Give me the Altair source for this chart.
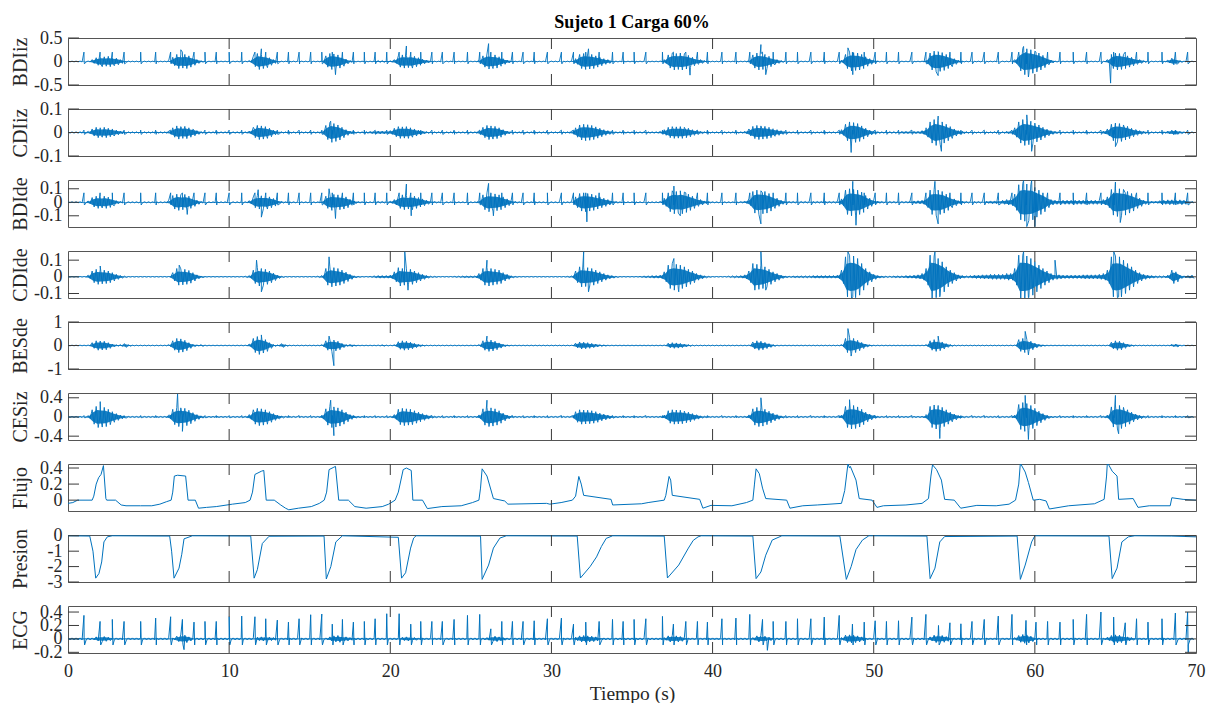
import altair as alt
import pandas as pd

alt.data_transformers.disable_max_rows()

# ---------------------------------------------------------------- data
T_STEP = 0.25  # width of one envelope bin (s); envelopes are in thousandths

# ECG R-peak times (s) and heights (thousandths)
R_TIMES = [0.99, 1.99, 2.75, 3.48, 4.51, 5.44, 6.37, 7.10, 7.82, 8.50, 9.20, 10.00, 10.78,
           11.60, 12.27, 12.99, 13.68, 14.34, 15.06, 15.75, 16.40, 17.03, 17.71, 18.39, 19.06,
           19.78, 20.55, 21.27, 21.89, 22.58, 23.23, 23.96, 24.79, 25.55, 26.24, 26.92, 27.58,
           28.24, 28.93, 29.75, 30.62, 31.37, 32.13, 32.96, 33.79, 34.45, 35.13, 35.86, 36.89,
           37.57, 38.34, 39.06, 39.68, 40.58, 41.45, 42.31, 43.10, 43.76, 44.55, 45.27, 46.10,
           46.93, 47.86, 48.68, 49.41, 50.09, 50.79, 51.54, 52.37, 53.24, 54.02, 54.73, 55.41,
           56.10, 56.86, 57.73, 58.58, 59.45, 60.07, 60.79, 61.56, 62.38, 63.21, 64.10, 64.89,
           65.61, 66.31, 67.02, 67.89, 68.72, 69.48]
R_AMPS = [350, 260, 290, 260, 260, 310, 330, 290, 250, 260, 260, 330, 340,
          330, 300, 280, 250, 300, 360, 370, 220, 290, 250, 260, 300,
          375, 375, 220, 260, 260, 260, 290, 350, 365, 150, 260, 260,
          260, 270, 300, 310, 220, 250, 260, 290, 260, 290, 300, 335,
          220, 260, 260, 250, 300, 310, 365, 290, 260, 260, 300, 300,
          325, 350, 220, 250, 270, 260, 270, 325, 365, 200, 240, 225,
          260, 290, 340, 365, 275, 250, 260, 250, 290, 365, 400, 325,
          240, 300, 250, 300, 385, 400]
ECG_S = -90

BDIIZ_ENV = [
    8, 8, 8, 8, 8, 10, 40, 80, 110, 100, 110, 90, 70, 40, 20, 10, 8, 8, 8, 8,
    8, 8, 8, 8, 8, 20, 90, 150, 140, 150, 120, 80, 40, 15, 8, 8, 8, 8, 8, 8,
    8, 8, 8, 8, 8, 20, 110, 170, 150, 130, 80, 40, 15, 8, 8, 8, 8, 8, 8, 8,
    8, 8, 8, 20, 120, 170, 160, 140, 100, 50, 20, 10, 8, 8, 8, 8, 15, 20, 20, 15,
    15, 40, 120, 140, 130, 140, 110, 80, 50, 30, 15, 8, 8, 8, 8, 8, 8, 8, 8, 8,
    8, 8, 30, 120, 160, 150, 140, 100, 60, 30, 15, 8, 8, 8, 8, 8, 8, 8, 8, 8,
    8, 8, 8, 8, 8, 15, 60, 150, 170, 160, 150, 120, 90, 60, 40, 20, 10, 8, 8, 8,
    8, 8, 8, 8, 8, 8, 8, 10, 40, 140, 180, 170, 180, 160, 130, 90, 60, 40, 20, 10,
    8, 8, 8, 8, 8, 8, 8, 8, 10, 30, 140, 180, 170, 150, 110, 70, 40, 20, 10, 8,
    8, 8, 8, 8, 8, 8, 8, 8, 8, 8, 8, 8, 30, 150, 200, 190, 180, 150, 100, 60,
    30, 12, 8, 8, 8, 8, 8, 8, 8, 8, 8, 8, 8, 40, 180, 220, 210, 190, 150, 110,
    60, 25, 10, 8, 8, 8, 8, 8, 8, 8, 8, 8, 8, 8, 8, 40, 200, 280, 270, 250,
    220, 180, 130, 70, 30, 12, 8, 8, 8, 8, 8, 8, 8, 8, 8, 8, 8, 8, 40, 150,
    180, 170, 150, 120, 90, 60, 40, 20, 10, 8, 8, 8, 8, 30, 70, 50, 20, 8, 8, 8]
BDIIZ_PEAKS = [(7.0, 0.25), (12.0, 0.27), (16.6, -0.28), (21.0, 0.33), (26.1, 0.38),
               (32.3, 0.27), (38.6, -0.29), (43.0, 0.36), (43.3, -0.28), (48.4, 0.29),
               (48.7, -0.28), (54.0, -0.3), (59.3, 0.32), (59.6, -0.33), (64.7, -0.46)]

CDIIZ_ENV = [
    3, 3, 3, 3, 3, 5, 15, 22, 20, 22, 18, 15, 10, 6, 4, 3, 3, 3, 3, 3,
    3, 3, 3, 3, 3, 6, 20, 28, 25, 26, 20, 14, 8, 4, 3, 3, 3, 3, 3, 3,
    3, 3, 3, 3, 3, 6, 22, 30, 28, 25, 18, 10, 5, 3, 3, 3, 3, 3, 3, 3,
    3, 3, 3, 6, 30, 42, 38, 32, 22, 12, 6, 4, 3, 3, 4, 5, 6, 6, 6, 6,
    8, 18, 25, 24, 25, 20, 15, 10, 6, 4, 3, 3, 3, 3, 3, 3, 3, 3, 3, 3,
    3, 3, 8, 22, 30, 28, 26, 20, 12, 6, 4, 3, 3, 3, 3, 3, 3, 3, 3, 3,
    3, 3, 3, 3, 3, 6, 20, 32, 35, 33, 30, 24, 18, 12, 8, 5, 3, 3, 3, 3,
    3, 3, 3, 3, 3, 3, 3, 5, 12, 22, 25, 24, 25, 22, 18, 12, 8, 5, 3, 3,
    3, 3, 3, 3, 3, 3, 3, 3, 5, 15, 26, 30, 28, 26, 22, 16, 12, 8, 5, 3,
    3, 3, 3, 3, 3, 3, 3, 3, 3, 3, 3, 3, 12, 35, 45, 42, 38, 28, 18, 10,
    6, 4, 3, 3, 4, 4, 4, 5, 5, 5, 5, 5, 8, 20, 45, 55, 50, 45, 35, 25,
    15, 8, 5, 4, 3, 3, 3, 3, 3, 3, 4, 4, 4, 5, 6, 20, 45, 55, 52, 48,
    40, 32, 22, 14, 8, 5, 4, 3, 3, 3, 3, 3, 3, 3, 3, 3, 4, 6, 15, 35,
    40, 38, 32, 26, 18, 12, 8, 5, 4, 3, 3, 3, 3, 6, 10, 8, 5, 3, 3, 3]
CDIIZ_PEAKS = [(16.3, 0.048), (48.6, -0.085), (54.0, 0.07), (54.2, -0.08),
               (59.5, 0.075), (59.8, -0.08), (65.0, -0.06)]

BDIDE_ENV = [
    4, 4, 4, 4, 4, 10, 35, 45, 42, 45, 38, 25, 12, 6, 4, 4, 4, 4, 4, 4,
    4, 4, 4, 4, 4, 15, 50, 60, 55, 58, 45, 30, 15, 6, 4, 4, 4, 4, 4, 4,
    4, 4, 4, 4, 4, 12, 40, 50, 48, 50, 40, 28, 14, 6, 4, 4, 4, 4, 4, 4,
    4, 4, 4, 10, 45, 60, 58, 55, 50, 40, 22, 10, 5, 4, 4, 4, 5, 6, 6, 6,
    8, 20, 45, 55, 50, 55, 45, 35, 25, 15, 8, 5, 4, 4, 4, 4, 4, 4, 4, 4,
    4, 4, 15, 55, 70, 65, 62, 55, 40, 25, 12, 6, 4, 4, 4, 4, 4, 4, 4, 4,
    4, 4, 4, 4, 4, 6, 40, 65, 70, 65, 60, 50, 40, 30, 20, 12, 6, 4, 4, 4,
    4, 4, 4, 4, 4, 4, 4, 6, 30, 70, 85, 80, 85, 75, 60, 45, 30, 20, 10, 5,
    4, 4, 4, 4, 4, 4, 4, 5, 8, 25, 80, 90, 85, 80, 65, 45, 30, 15, 8, 6,
    6, 6, 6, 6, 6, 6, 6, 6, 6, 6, 6, 8, 25, 90, 100, 95, 90, 75, 50, 30,
    15, 8, 6, 6, 6, 6, 6, 6, 6, 8, 10, 12, 15, 40, 90, 95, 90, 80, 60, 40,
    25, 12, 8, 6, 6, 6, 6, 6, 8, 10, 10, 12, 15, 20, 25, 60, 130, 140, 135, 130,
    110, 90, 70, 40, 20, 15, 15, 15, 15, 15, 15, 15, 15, 15, 15, 15, 15, 20, 40, 95,
    105, 100, 95, 80, 65, 45, 30, 15, 10, 8, 8, 12, 15, 18, 18, 15, 18, 15, 10, 6]
BDIDE_PEAKS = [(7.4, -0.09), (11.8, 0.093), (12.0, -0.11), (16.2, 0.1), (16.6, -0.12),
               (21.0, 0.135), (21.3, -0.1), (26.1, 0.14), (26.4, -0.1), (32.2, -0.145),
               (37.6, 0.12), (38.0, -0.1), (43.0, -0.16), (48.7, 0.155), (48.9, -0.17),
               (53.8, 0.155), (54.0, -0.16), (59.3, 0.16), (59.5, -0.18), (59.8, 0.16),
               (60.0, -0.18), (65.0, 0.15), (65.3, -0.15)]

CDIDE_ENV = [
    2, 2, 2, 2, 2, 10, 35, 45, 42, 40, 35, 25, 15, 8, 4, 2, 2, 2, 2, 2,
    2, 2, 2, 2, 2, 2, 25, 50, 48, 45, 38, 25, 12, 5, 2, 2, 2, 2, 2, 2,
    2, 2, 2, 2, 4, 8, 40, 55, 50, 45, 35, 22, 10, 4, 2, 2, 2, 2, 2, 2,
    2, 2, 4, 8, 50, 60, 55, 50, 40, 28, 15, 6, 3, 2, 2, 3, 6, 8, 8, 8,
    10, 30, 55, 50, 48, 45, 35, 25, 15, 8, 4, 3, 2, 2, 2, 2, 3, 4, 5, 5,
    5, 6, 20, 50, 55, 50, 45, 40, 25, 15, 6, 3, 2, 2, 2, 2, 2, 2, 2, 2,
    2, 2, 2, 2, 3, 5, 35, 60, 58, 55, 50, 40, 30, 20, 12, 8, 4, 2, 2, 2,
    2, 2, 3, 5, 6, 8, 8, 10, 30, 70, 80, 75, 70, 60, 45, 35, 20, 12, 6, 3,
    2, 2, 2, 2, 4, 6, 6, 8, 12, 35, 80, 75, 70, 60, 45, 30, 20, 10, 5, 4,
    5, 5, 6, 6, 6, 8, 8, 8, 8, 8, 8, 10, 40, 120, 130, 125, 110, 80, 50, 30,
    15, 8, 5, 4, 4, 5, 6, 6, 8, 8, 10, 12, 20, 50, 130, 125, 110, 90, 60, 40,
    25, 12, 8, 6, 8, 10, 10, 12, 12, 15, 15, 15, 15, 20, 20, 50, 130, 130, 125, 110,
    90, 70, 50, 35, 20, 15, 12, 10, 10, 10, 10, 10, 12, 12, 12, 12, 15, 20, 40, 120,
    125, 120, 100, 80, 60, 40, 25, 15, 10, 8, 6, 6, 6, 10, 40, 30, 10, 6, 8, 10]
CDIDE_PEAKS = [(2.0, 0.065), (6.9, 0.07), (11.7, 0.1), (12.0, -0.09), (16.2, 0.12),
               (20.9, 0.15), (21.1, -0.08), (26.0, 0.1), (32.0, 0.15), (32.3, -0.09),
               (37.6, 0.11), (37.9, -0.09), (43.0, 0.15), (43.3, -0.08), (48.4, 0.15),
               (48.7, -0.12), (53.8, 0.15), (54.1, -0.12), (59.3, 0.15), (59.6, -0.125),
               (61.25, 0.1), (64.9, 0.15), (65.2, -0.12)]

BESDE_ENV = [
    15, 15, 15, 15, 15, 20, 120, 200, 190, 180, 120, 60, 30, 40, 80, 30, 15, 15, 15, 15,
    15, 15, 15, 15, 15, 40, 200, 300, 280, 220, 120, 50, 25, 40, 20, 15, 15, 15, 15, 15,
    15, 15, 15, 15, 15, 60, 300, 380, 320, 250, 120, 40, 25, 80, 30, 15, 15, 15, 15, 15,
    15, 15, 15, 40, 200, 250, 230, 180, 90, 40, 50, 25, 15, 15, 15, 15, 15, 20, 30, 20,
    15, 30, 160, 200, 180, 140, 90, 50, 25, 15, 15, 15, 15, 15, 15, 15, 15, 15, 15, 15,
    15, 15, 40, 200, 250, 230, 180, 110, 50, 25, 15, 15, 15, 15, 15, 15, 15, 15, 15, 15,
    15, 15, 15, 15, 15, 15, 100, 150, 140, 120, 90, 60, 40, 25, 15, 15, 15, 15, 15, 15,
    15, 15, 15, 15, 15, 15, 15, 15, 20, 100, 120, 110, 90, 60, 40, 20, 15, 15, 15, 15,
    15, 15, 15, 15, 15, 15, 15, 15, 15, 20, 150, 200, 180, 130, 80, 40, 20, 15, 15, 15,
    15, 15, 15, 15, 15, 15, 15, 15, 15, 15, 15, 15, 40, 300, 350, 300, 220, 130, 60, 25,
    15, 15, 15, 15, 15, 15, 15, 15, 15, 15, 15, 15, 15, 40, 200, 250, 220, 150, 80, 40,
    20, 15, 15, 15, 15, 15, 15, 15, 15, 15, 15, 15, 15, 15, 15, 20, 250, 300, 260, 180,
    100, 50, 25, 15, 15, 15, 15, 15, 15, 15, 15, 15, 15, 15, 15, 15, 15, 15, 15, 140,
    200, 180, 120, 60, 30, 15, 15, 15, 15, 15, 15, 15, 15, 15, 50, 60, 20, 15, 15, 15]
BESDE_PEAKS = [(12.0, 0.45), (16.2, 0.4), (16.5, -0.86), (26.0, 0.4), (48.4, 0.72),
               (48.6, -0.45), (54.0, 0.4), (59.4, 0.6), (59.6, -0.4)]

CESIZ_ENV = [
    12, 12, 12, 12, 12, 30, 150, 220, 210, 200, 160, 110, 70, 40, 20, 12, 12, 12, 12, 12,
    12, 12, 12, 12, 12, 40, 160, 200, 190, 180, 140, 90, 50, 25, 12, 12, 12, 12, 12, 12,
    12, 12, 12, 12, 15, 50, 150, 180, 170, 150, 110, 70, 40, 20, 12, 12, 12, 12, 12, 12,
    12, 12, 12, 40, 170, 220, 210, 190, 150, 100, 50, 25, 15, 12, 12, 12, 12, 12, 12, 12,
    15, 50, 160, 180, 170, 160, 130, 100, 70, 45, 25, 15, 12, 12, 12, 12, 12, 12, 12, 12,
    12, 12, 40, 170, 200, 190, 170, 130, 80, 40, 20, 12, 12, 12, 12, 12, 12, 12, 12, 12,
    12, 12, 12, 12, 12, 20, 110, 150, 145, 140, 130, 110, 80, 60, 40, 25, 15, 12, 12, 12,
    12, 12, 12, 12, 12, 12, 12, 15, 40, 130, 150, 145, 140, 120, 100, 70, 45, 25, 15, 12,
    12, 12, 12, 12, 12, 12, 12, 12, 15, 40, 170, 200, 190, 160, 120, 80, 50, 25, 15, 12,
    12, 12, 12, 12, 12, 12, 12, 12, 12, 12, 12, 15, 40, 220, 250, 240, 210, 160, 100, 60,
    30, 15, 12, 12, 12, 12, 12, 12, 12, 12, 12, 12, 15, 50, 220, 250, 240, 200, 150, 100,
    60, 30, 15, 12, 12, 12, 12, 12, 12, 12, 12, 12, 12, 12, 15, 40, 260, 300, 280, 240,
    180, 120, 70, 35, 15, 12, 12, 12, 12, 12, 12, 12, 12, 12, 12, 12, 12, 15, 40, 210,
    250, 240, 200, 150, 100, 60, 35, 20, 12, 12, 12, 12, 12, 12, 12, 12, 12, 12, 12, 12]
CESIZ_PEAKS = [(2.0, 0.32), (6.8, 0.48), (7.1, -0.3), (16.3, 0.35), (16.5, -0.39),
               (26.0, 0.35), (43.0, 0.4), (48.5, 0.36), (54.1, -0.45), (59.4, 0.45),
               (59.6, -0.47), (65.0, 0.45), (65.2, -0.35)]

ECG_ENV = [
    15, 15, 15, 15, 15, 15, 15, 30, 40, 35, 25, 15, 15, 15, 15, 15, 15, 15, 15, 15,
    15, 15, 15, 15, 15, 15, 15, 40, 60, 55, 30, 15, 15, 15, 15, 15, 15, 15, 15, 15,
    15, 15, 15, 15, 15, 15, 15, 25, 30, 30, 25, 20, 15, 15, 15, 15, 15, 15, 15, 15,
    15, 15, 15, 15, 15, 30, 45, 50, 40, 30, 20, 15, 15, 15, 15, 15, 15, 15, 15, 15,
    15, 15, 15, 25, 30, 25, 20, 15, 15, 15, 15, 15, 15, 15, 15, 15, 15, 15, 15, 15,
    15, 15, 15, 15, 20, 35, 40, 30, 20, 15, 15, 15, 15, 15, 15, 15, 15, 15, 15, 15,
    15, 15, 15, 15, 15, 15, 25, 45, 50, 45, 40, 30, 20, 15, 15, 15, 15, 15, 15, 15,
    15, 15, 15, 15, 15, 15, 15, 15, 20, 45, 50, 45, 35, 20, 15, 15, 15, 15, 15, 15,
    15, 15, 15, 15, 15, 15, 15, 15, 15, 15, 20, 45, 50, 40, 25, 15, 15, 15, 15, 15,
    15, 15, 15, 15, 15, 15, 15, 15, 15, 15, 15, 15, 20, 55, 60, 55, 45, 30, 15, 15,
    15, 15, 15, 15, 15, 15, 15, 15, 15, 15, 15, 15, 15, 15, 30, 55, 60, 50, 35, 20,
    15, 15, 15, 15, 15, 15, 15, 15, 15, 15, 15, 15, 15, 15, 15, 20, 50, 65, 60, 40,
    20, 15, 15, 15, 15, 15, 15, 15, 15, 15, 15, 15, 15, 15, 15, 15, 15, 15, 25, 50,
    60, 55, 45, 30, 20, 15, 15, 15, 15, 15, 15, 15, 15, 15, 15, 15, 15, 15, 15, 15]
ECG_PEAKS = [(7.2, -0.16), (43.4, -0.17), (69.52, -0.2)]

FLUJO_T = [0, 0.3, 0.6, 1.5, 1.6, 1.75, 1.9, 2.05, 2.2, 2.35, 2.4, 2.95, 3.3, 3.6, 4.5, 5.2,
           5.7, 6.1, 6.4, 6.5, 6.6, 6.8, 7.3, 7.45, 7.9, 8.1, 8.6, 9.2, 10.2, 11.0, 11.3, 11.45,
           11.6, 12.0, 12.15, 12.3, 12.8, 13.2, 13.5, 13.7, 14.3, 15.1, 15.6, 15.9, 16.05, 16.2,
           16.5, 16.6, 16.8, 17.4, 17.8, 18.5, 19.5, 19.9, 20.3, 20.5, 20.8, 21.0, 21.3, 21.4,
           22.0, 22.3, 23.2, 24.4, 25.1, 25.5, 25.6, 25.7, 26.0, 26.4, 27.1, 27.3, 29.7, 29.9,
           30.6, 31.3, 31.5, 31.7, 31.85, 32.0, 33.7, 33.8, 35.6, 36.0, 37.0, 37.1, 37.3, 37.4,
           37.5, 39.2, 39.4, 39.9, 41.2, 42.1, 42.5, 42.6, 42.7, 42.9, 43.1, 43.3, 44.6, 44.8,
           45.6, 46.5, 48.0, 48.2, 48.4, 48.5, 48.55, 48.9, 49.1, 49.9, 50.2, 50.6, 52.0, 53.0,
           53.4, 53.55, 53.65, 53.9, 54.2, 54.4, 55.0, 55.4, 56.4, 57.6, 58.4, 58.8, 59.0, 59.1,
           59.4, 59.6, 59.9, 60.3, 60.7, 60.9, 62.1, 63.7, 64.3, 64.45, 64.5, 64.8, 65.1, 65.2,
           66.1, 66.4, 67.1, 68.4, 68.5, 69.2, 70.0]
FLUJO_V = [-0.04, -0.03, 0.0, 0.0, 0.05, 0.2, 0.28, 0.32, 0.43, 0.02, 0.0, 0.0, -0.06, -0.07,
           -0.07, -0.07, -0.05, -0.02, 0.0, 0.1, 0.3, 0.31, 0.3, 0.0, 0.0, -0.1, -0.09, -0.08,
           -0.05, -0.03, 0.0, 0.1, 0.32, 0.36, 0.37, 0.0, 0.0, -0.06, -0.1, -0.12, -0.1, -0.08,
           -0.04, 0.0, 0.1, 0.38, 0.41, 0.42, 0.0, 0.0, -0.08, -0.1, -0.08, -0.05, 0.0, 0.1,
           0.38, 0.4, 0.37, 0.0, 0.0, -0.105, -0.08, -0.07, -0.03, 0.0, 0.15, 0.39, 0.3, 0.02,
           -0.01, -0.05, -0.04, -0.05, -0.03, 0.0, 0.05, 0.295, 0.2, 0.06, 0.01, -0.06, -0.045,
           -0.03, 0.0, 0.06, 0.295, 0.25, 0.06, 0.01, -0.1, -0.065, -0.07, -0.03, 0.0, 0.2,
           0.39, 0.33, 0.15, 0.02, 0.0, -0.1, -0.07, -0.06, -0.04, 0.12, 0.45, 0.4, 0.42, 0.25,
           0.02, 0.0, -0.09, -0.07, -0.06, -0.04, 0.02, 0.3, 0.44, 0.38, 0.25, 0.01, 0.0, -0.1,
           -0.065, -0.07, -0.05, 0.0, 0.2, 0.46, 0.35, 0.22, 0.0, 0.01, -0.01, -0.11, -0.07,
           -0.045, 0.01, 0.3, 0.47, 0.36, 0.3, 0.01, 0.02, -0.09, -0.07, -0.07, 0.03, 0.01, 0.0]

PRESION_T = [0, 1.35, 1.55, 1.72, 1.92, 2.09, 2.23, 2.44, 2.75, 6.31, 6.43, 6.58, 6.89, 7.06,
             7.2, 7.72, 11.34, 11.55, 11.75, 12.06, 12.48, 15.89, 16.03, 16.31, 16.62, 17.03,
             20.5, 20.7, 20.95, 21.26, 21.45, 21.6, 25.6, 25.7, 26.1, 26.4, 26.8, 27.2, 31.6,
             31.8, 32.4, 32.8, 33.1, 33.4, 33.8, 37.0, 37.2, 37.9, 38.5, 38.8, 39.1, 39.3,
             42.5, 42.7, 43.0, 43.3, 43.7, 44.3, 47.9, 48.3, 48.6, 48.9, 49.3, 49.7, 53.3,
             53.5, 53.8, 54.1, 54.4, 58.9, 59.1, 59.4, 59.8, 60.0, 64.6, 64.8, 65.1, 65.4,
             65.8, 66.2, 68.5, 70.0]
PRESION_V = [0.0, -0.02, -1.0, -2.75, -2.45, -1.7, -0.4, -0.07, 0.0, -0.02, -1.0, -2.75, -2.1,
             -1.2, -0.2, 0.0, -0.02, -2.75, -2.2, -0.5, -0.03, -0.02, -2.8, -2.0, -0.4, 0.0,
             -0.1, -2.75, -2.4, -0.8, -0.15, 0.0, -0.02, -2.83, -1.9, -0.8, -0.15, 0.0, -0.02,
             -2.74, -2.0, -1.37, -0.7, -0.17, 0.0, -0.02, -2.74, -1.9, -0.8, -0.3, -0.07, 0.0,
             -0.02, -2.78, -2.35, -1.26, -0.28, 0.0, -0.02, -2.83, -2.0, -0.9, -0.28, 0.0, -0.02,
             -2.78, -2.1, -0.4, -0.05, -0.02, -2.83, -1.9, -0.4, 0.0, -0.02, -2.78, -2.1, -0.4,
             -0.07, 0.0, -0.02, -0.07]

NAMES = ["BDIiz", "CDIiz", "BDIde", "CDIde", "BESde", "CESiz", "Flujo", "Presion", "ECG"]
Y_DOMAINS = [[-0.5, 0.5], [-0.1, 0.1], [-0.183, 0.165], [-0.127, 0.155], [-1, 1],
             [-0.48, 0.5], [-0.135, 0.45], [-3, 0.05], [-0.21, 0.49]]
Y_TICKS = [[-0.5, 0, 0.5], [-0.1, 0, 0.1], [-0.1, 0, 0.1], [-0.1, 0, 0.1], [-1, 0, 1],
           [-0.4, 0, 0.4], [0, 0.2, 0.4], [-3, -2, -1, 0], [-0.2, 0, 0.2, 0.4]]
X_TICKS = [0, 10, 20, 30, 40, 50, 60, 70]
X_INNER = [10, 20, 30, 40, 50, 60]
# ECG-artefact heights (thousandths, up / down) seen in each EMG channel
ARTEFACT = {"BDIiz": (200, 50), "CDIiz": (10, 8), "BDIde": (70, 20), "CDIde": (0, 0),
            "BESde": (0, 0), "CESiz": (30, 15)}
ENVS = {"BDIiz": BDIIZ_ENV, "CDIiz": CDIIZ_ENV, "BDIde": BDIDE_ENV, "CDIde": CDIDE_ENV,
        "BESde": BESDE_ENV, "CESiz": CESIZ_ENV, "ECG": ECG_ENV}
CORE = 0.65  # share of each envelope drawn as a solid core under the trace

# ---------------------------------------------------------------- frames
def envelope_rows(env):
    rows = []
    for i, a in enumerate(env):
        t = i * T_STEP
        rows.append((t, a / 1000.0))
        rows.append((t + T_STEP / 2, -a / 1000.0))
    return rows


def band_frame(env):
    return pd.DataFrame({"t": [i * T_STEP + T_STEP / 4 for i in range(len(env))],
                         "hi": [CORE * a / 1000.0 for a in env],
                         "lo": [-CORE * a / 1000.0 for a in env]})


def emg_frame(env, peaks, name):
    rows = envelope_rows(env)
    up, dn = ARTEFACT[name]
    if up:
        for tr in R_TIMES:
            rows.append((tr, up / 1000.0))
            rows.append((tr + 0.03, -dn / 1000.0))
    rows += list(peaks)
    df = pd.DataFrame(rows, columns=["t", "v"]).sort_values("t")
    return df[(df.t >= 0) & (df.t <= 70)]


def ecg_frame():
    rows = envelope_rows(ECG_ENV)
    for tr, a in zip(R_TIMES, R_AMPS):
        rows.append((tr, a / 1000.0))
        rows.append((tr + 0.04, ECG_S / 1000.0))
    rows += list(ECG_PEAKS)
    df = pd.DataFrame(rows, columns=["t", "v"]).sort_values("t")
    return df[(df.t >= 0) & (df.t <= 70)]


FRAMES = [
    emg_frame(BDIIZ_ENV, BDIIZ_PEAKS, "BDIiz"),
    emg_frame(CDIIZ_ENV, CDIIZ_PEAKS, "CDIiz"),
    emg_frame(BDIDE_ENV, BDIDE_PEAKS, "BDIde"),
    emg_frame(CDIDE_ENV, CDIDE_PEAKS, "CDIde"),
    emg_frame(BESDE_ENV, BESDE_PEAKS, "BESde"),
    emg_frame(CESIZ_ENV, CESIZ_PEAKS, "CESiz"),
    pd.DataFrame({"t": FLUJO_T, "v": FLUJO_V}),
    pd.DataFrame({"t": PRESION_T, "v": PRESION_V}),
    ecg_frame(),
]

# ---------------------------------------------------------------- style
FONT = "Liberation Serif"
TXT = "#262626"
TICK = "#3a3a3a"
BLUE = "#0072BD"
W, H = 1128, 47
TL = 11  # inward tick length


def panel(i):
    name = NAMES[i]
    bottom = i == len(NAMES) - 1
    xs = alt.Scale(domain=[0, 70], nice=False, zero=False)
    ys = alt.Scale(domain=Y_DOMAINS[i], nice=False, zero=False)
    if bottom:
        xaxis = alt.Axis(values=X_TICKS, title="Tiempo (s)", ticks=False, tickSize=0,
                         domain=False, grid=False, labelFont=FONT, labelFontSize=18,
                         labelColor=TXT, labelPadding=9, labelFlush=False,
                         labelOverlap=False,
                         titleFont=FONT, titleFontSize=19.5, titleFontWeight="normal",
                         titleColor=TXT, titlePadding=4)
    else:
        xaxis = None
    yaxis = alt.Axis(values=Y_TICKS[i], title=name, ticks=False, tickSize=0, domain=False,
                     grid=False, labelFont=FONT, labelFontSize=18, labelColor=TXT,
                     labelPadding=6, labelExpr="datum.value + ''", labelOverlap=False,
                     titleFont=FONT, titleFontSize=20, titleFontWeight="normal",
                     titleColor=TXT, titleX=-42, titleY=H / 2, titleAlign="center",
                     titleBaseline="alphabetic")
    layers = []
    if name in ENVS:
        layers.append(alt.Chart(band_frame(ENVS[name])).mark_area(
            color=BLUE, opacity=0.9, clip=True).encode(
            x=alt.X("t:Q", scale=xs, axis=xaxis),
            y=alt.Y("hi:Q", scale=ys, axis=yaxis),
            y2="lo:Q"))
    lw = 1.0 if i >= 6 else 0.9
    layers.append(alt.Chart(FRAMES[i]).mark_line(color=BLUE, strokeWidth=lw, clip=True).encode(
        x=alt.X("t:Q", scale=xs, axis=xaxis),
        y=alt.Y("v:Q", scale=ys, axis=yaxis),
    ))
    xt = pd.DataFrame({"x": X_INNER})
    yt = pd.DataFrame({"y": Y_TICKS[i]})
    layers.append(alt.Chart(xt).mark_rule(color=TICK, strokeWidth=1).encode(
        x=alt.X("x:Q", scale=xs, axis=xaxis), y=alt.value(0), y2=alt.value(TL)))
    layers.append(alt.Chart(xt).mark_rule(color=TICK, strokeWidth=1).encode(
        x=alt.X("x:Q", scale=xs, axis=xaxis), y=alt.value(H - TL), y2=alt.value(H)))
    layers.append(alt.Chart(yt).mark_rule(color=TICK, strokeWidth=1).encode(
        y=alt.Y("y:Q", scale=ys, axis=yaxis), x=alt.value(0), x2=alt.value(TL)))
    layers.append(alt.Chart(yt).mark_rule(color=TICK, strokeWidth=1).encode(
        y=alt.Y("y:Q", scale=ys, axis=yaxis), x=alt.value(W - TL), x2=alt.value(W)))
    lay = alt.layer(*layers).properties(width=W, height=H)
    if i == 0:
        lay = lay.properties(title=alt.TitleParams(
            "Sujeto 1 Carga 60%", font=FONT, fontSize=18, fontWeight="bold", color="#000000",
            anchor="middle", frame="group", offset=-3))
    return lay


chart = alt.vconcat(*[panel(i) for i in range(len(NAMES))], spacing=24, bounds="flush")
chart = chart.properties(
    padding={"left": 9, "top": 13, "right": 5, "bottom": 0}
).configure_view(stroke="#555555", strokeWidth=1)

chart.save("out.html", embed_options={"renderer": "svg", "actions": False})
